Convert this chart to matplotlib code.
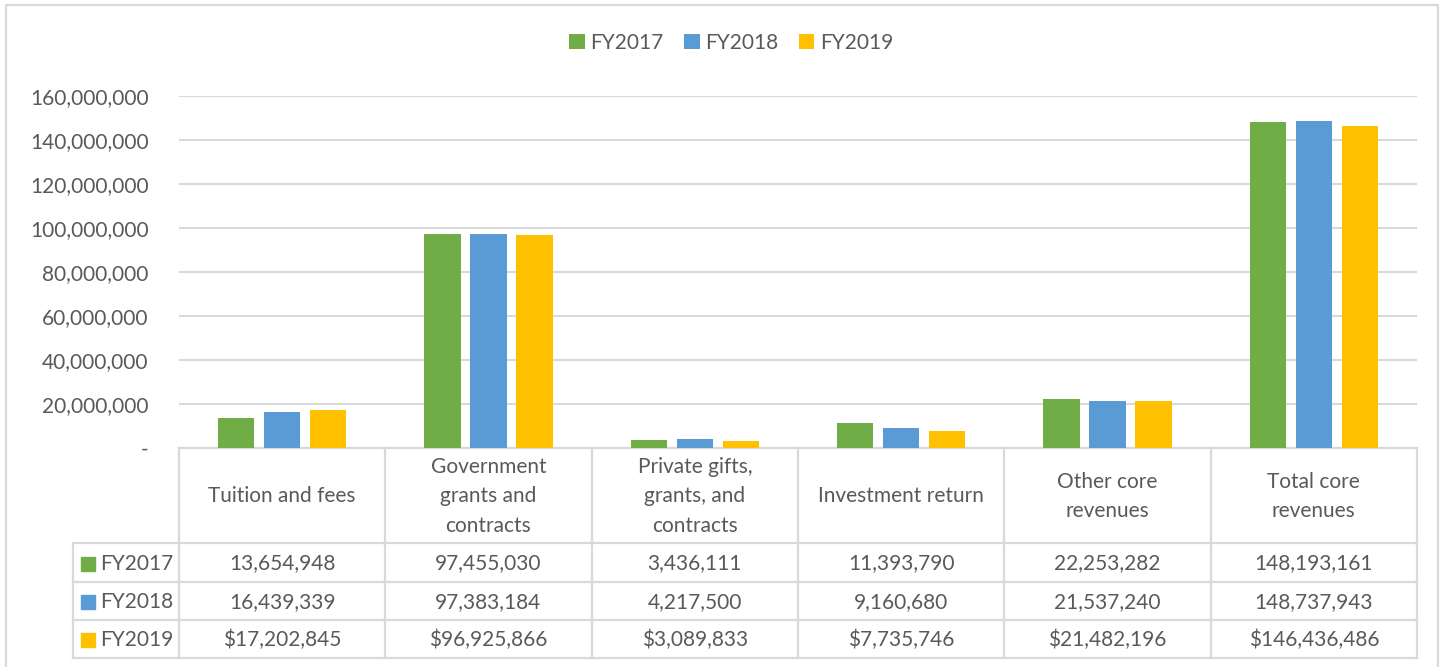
import matplotlib
matplotlib.use("Agg")
import matplotlib.pyplot as plt
from matplotlib.patches import Rectangle
from matplotlib.ticker import FuncFormatter

plt.rcParams['font.family'] = ['Lato', 'DejaVu Sans']

categories = ["Tuition and fees", "Government\ngrants and\ncontracts",
              "Private gifts,\ngrants, and\ncontracts", "Investment return",
              "Other core\nrevenues", "Total core\nrevenues"]
series_names = ["FY2017", "FY2018", "FY2019"]
fy2017 = [13654948, 97455030, 3436111, 11393790, 22253282, 148193161]
fy2018 = [16439339, 97383184, 4217500, 9160680, 21537240, 148737943]
fy2019 = [17202845, 96925866, 3089833, 7735746, 21482196, 146436486]
yticks = [0, 20000000, 40000000, 60000000, 80000000, 100000000,
          120000000, 140000000, 160000000]

colors = ["#70AD47", "#5B9BD5", "#FFC000"]
txt = "#595959"
grid = "#D9D9D9"
FS = 15

W, H = 1448, 667
fig = plt.figure(figsize=(W / 100, H / 100), dpi=100)

# overlay axes in pixel coordinates
ov = fig.add_axes([0, 0, 1, 1])
ov.set_xlim(0, W)
ov.set_ylim(H, 0)
ov.axis("off")

x0, x1 = 179, 1417
ytop, ybot = 96, 448
ax = fig.add_axes([x0 / W, (H - ybot) / H, (x1 - x0) / W, (ybot - ytop) / H])
ax.set_zorder(2)
ax.patch.set_alpha(0)

series = [fy2017, fy2018, fy2019]
step = 0.223
width = 0.175
xs = list(range(len(categories)))
handles = []
for i, (vals, c) in enumerate(zip(series, colors)):
    b = ax.bar([x + (i - 1) * step for x in xs], vals, width=width, color=c,
               label=series_names[i], zorder=3)
    handles.append(b)

ax.set_xlim(-0.5, len(categories) - 0.5)
ax.set_ylim(0, 160000000)
ax.set_yticks(yticks)
ax.yaxis.set_major_formatter(FuncFormatter(lambda v, p: "-" if v == 0 else f"{int(v):,}"))
ax.tick_params(axis="y", length=0, pad=22, labelsize=FS, labelcolor=txt)
ax.set_xticks([])
for s in ["top", "right", "left", "bottom"]:
    ax.spines[s].set_visible(False)
ax.grid(axis="y", color=grid, linewidth=1.5, zorder=0)
ax.set_axisbelow(True)

# legend
fig.legend(handles=handles, labels=series_names, loc="center",
           bbox_to_anchor=(731 / W, 1 - 43 / H), ncol=3, frameon=False,
           fontsize=FS, labelcolor=txt, handlelength=0.75, handleheight=0.75,
           handletextpad=0.25, columnspacing=1.0)

# data table
lc = grid
lw = 1.6
tl = 73
row_y = [543, 582, 620, 658]
colw = (x1 - x0) / len(categories)
ov.plot([x0, x1], [ybot, ybot], color=lc, lw=lw)
for yy in row_y:
    ov.plot([tl, x1], [yy, yy], color=lc, lw=lw)
for j in range(len(categories) + 1):
    xx = x0 + j * colw
    ov.plot([xx, xx], [ybot, row_y[-1]], color=lc, lw=lw)
ov.plot([tl, tl], [row_y[0], row_y[-1]], color=lc, lw=lw)

# header text
for j, cat in enumerate(categories):
    cx = x0 + (j + 0.5) * colw
    ov.text(cx, (ybot + row_y[0]) / 2 + 1, cat, ha="center", va="center",
            fontsize=FS, color=txt, linespacing=1.6)

# rows
for r, (name, vals) in enumerate(zip(series_names, series)):
    cy = (row_y[r] + row_y[r + 1]) / 2 + 1
    ov.add_patch(Rectangle((81, cy - 7), 14, 14, color=colors[r]))
    ov.text(100, cy, name, ha="left", va="center", fontsize=FS, color=txt)
    for j, v in enumerate(vals):
        cx = x0 + (j + 0.5) * colw
        s = f"{v:,}" if r < 2 else f"${v:,}"
        ov.text(cx, cy, s, ha="center", va="center", fontsize=FS, color=txt)

# chart border
ov.plot([6, 6, 1438, 1438], [H + 5, 5, 5, H + 5], color=grid, lw=1.6)

fig.savefig("out.png", dpi=100)
